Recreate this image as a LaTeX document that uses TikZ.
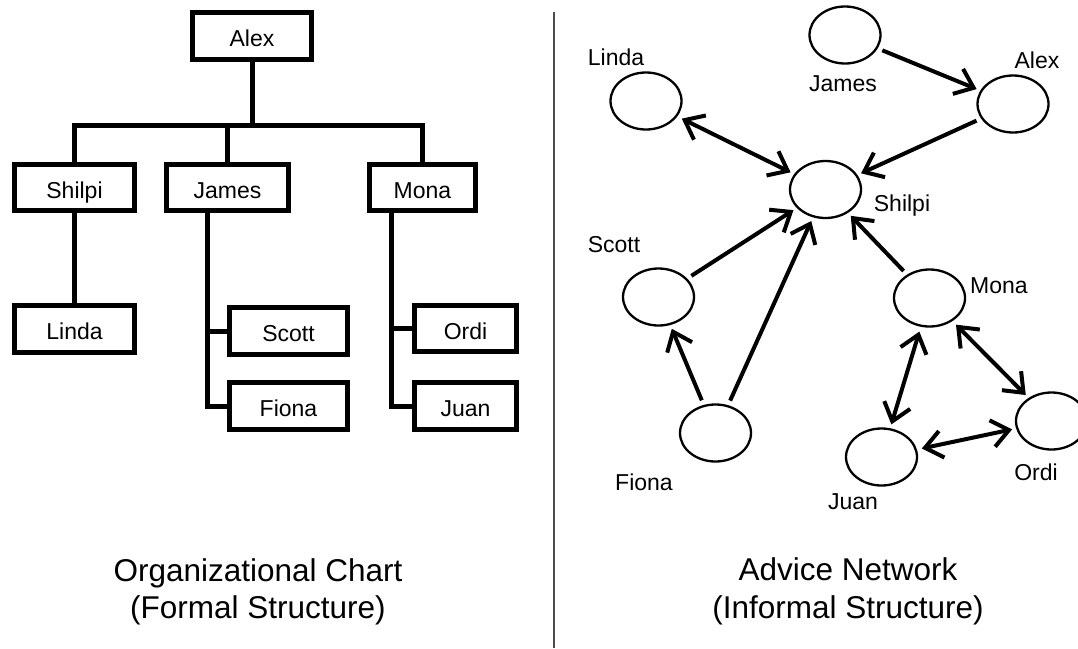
\documentclass[tikz,border=0pt]{standalone}
\usepackage{fontspec}
\setmainfont{Liberation Sans}
\usetikzlibrary{arrows.meta,shapes.geometric}

\begin{document}
\begin{tikzpicture}[x=1pt,y=-1pt,
    box/.style={draw,line width=5pt,inner sep=0pt,minimum height=47pt,
      text height=23pt,text depth=2pt,font=\fontsize{23}{27}\selectfont},
    person/.style={ellipse,draw,line width=2.3pt,minimum width=71pt,
      minimum height=57pt,inner sep=0pt},
    tag/.style={anchor=base,inner sep=0pt,font=\fontsize{23}{27}\selectfont},
    tie/.style={line width=5pt},
    advice/.style={line width=4pt,-{Straight Barb[length=17pt,width=27pt]},
      shorten >=4pt,shorten <=5pt},
    twoway/.style={advice,{Straight Barb[length=17pt,width=27pt]}-{Straight Barb[length=17pt,width=27pt]}},
    caption/.style={anchor=base,inner sep=0pt,font=\fontsize{31.5}{37}\selectfont}]
  \useasboundingbox (0,0) rectangle (1078,648);

  % formal structure
  \draw (252,36) node[box,minimum width=119pt] (Alex) {Alex};
  \draw (74.5,187.5) node[box,minimum width=120pt,minimum height=46pt] (Shilpi) {Shilpi};
  \draw (227.5,187.5) node[box,minimum width=122pt,minimum height=46pt] (James) {James};
  \draw (422.5,187.5) node[box,minimum width=106pt,minimum height=46pt] (Mona) {Mona};
  \draw (74.5,329) node[box,minimum width=120pt] (Linda) {Linda};
  \draw (288.5,331) node[box,minimum width=118pt] (Scott) {Scott};
  \draw (288.5,406) node[box,minimum width=118pt] (Fiona) {Fiona};
  \draw (465.5,328.5) node[box,minimum width=102pt,minimum height=46pt] (Ordi) {Ordi};
  \draw (465.5,406) node[box,minimum width=102pt] (Juan) {Juan};

  \coordinate (bar) at (252,125);
  \coordinate (jv) at (207,0);
  \coordinate (mv) at (391,0);
  \draw[tie] (Alex) -- (bar);
  \draw[tie] (Shilpi.north) |- (bar) -| (Mona.north);
  \draw[tie] (James) -- (James.north |- bar);
  \draw[tie] (Shilpi) -- (Linda);
  \draw[tie] (James.south -| jv) |- (Fiona.west);
  \draw[tie] (Scott.west -| jv) -- (Scott);
  \draw[tie] (Mona.south -| mv) |- (Juan.west);
  \draw[tie] (Ordi.west -| mv) -- (Ordi);

  \node[caption] (capOrg) at (258,581) {Organizational Chart};
  \node[caption] (capOrgSub) at (258,618) {(Formal Structure)};

  % divider
  \coordinate (divTop) at (554,12);
  \coordinate (divBot) at (554,648);
  \draw[line width=1.5pt,black!70] (divTop) -- (divBot);

  % informal structure
  \draw (845,35) node[person] (nJames) {};
  \draw (646,101) node[person] (nLinda) {};
  \draw (1013,104) node[person] (nAlex) {};
  \draw (825.5,189.5) node[person] (nShilpi) {};
  \draw (658.5,297) node[person] (nScott) {};
  \draw (929.5,298) node[person] (nMona) {};
  \draw (715.5,433) node[person] (nFiona) {};
  \draw (881.5,457) node[person] (nJuan) {};
  \draw (1051.5,421) node[person] (nOrdi) {};

  \node[tag] (tLinda) at (616,65) {Linda};
  \node[tag] (tJames) at (843,91) {James};
  \node[tag] (tAlex) at (1037,68) {Alex};
  \node[tag] (tShilpi) at (902,211) {Shilpi};
  \node[tag] (tScott) at (614,252) {Scott};
  \node[tag] (tMona) at (999,293) {Mona};
  \node[tag] (tFiona) at (644,490) {Fiona};
  \node[tag] (tJuan) at (853,509) {Juan};
  \node[tag] (tOrdi) at (1036,480) {Ordi};

  \draw[advice] (nJames) -- (nAlex);
  \draw[advice] (nAlex) -- (nShilpi);
  \draw[twoway] (nLinda) -- (nShilpi);
  \draw[advice] (nScott) -- (nShilpi);
  \draw[advice] (nFiona) -- (nShilpi);
  \draw[advice] (nMona) -- (nShilpi);
  \draw[advice] (nFiona) -- (nScott);
  \draw[twoway] (nMona) -- (nJuan);
  \draw[twoway] (nMona) -- (nOrdi);
  \draw[twoway] (nJuan) -- (nOrdi);

  \node[caption] (capAdv) at (848,580) {Advice Network};
  \node[caption] (capAdvSub) at (848,618) {(Informal Structure)};
\end{tikzpicture}
\end{document}
